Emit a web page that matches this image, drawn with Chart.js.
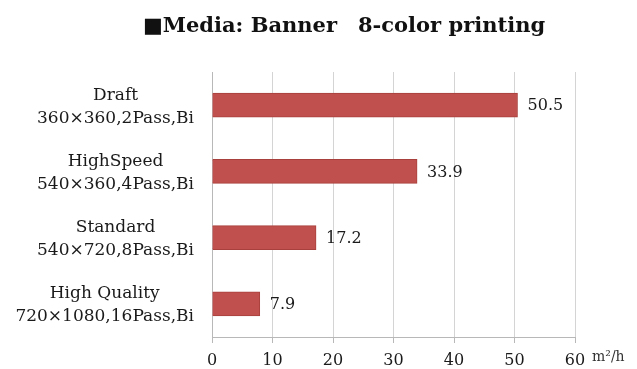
<!DOCTYPE html>
<html>
<head>
<meta charset="utf-8">
<script src="https://cdn.jsdelivr.net/npm/chart.js@4/dist/chart.umd.min.js"></script>
<style>
  html, body { margin: 0; padding: 0; background: #fff; }
  #wrap { width: 637px; height: 369px; }
</style>
</head>
<body>
<div id="wrap"><canvas id="speedChart" width="637" height="369"></canvas></div>
<script>
// chart data
const modes = ['Draft', 'HighSpeed', 'Standard', 'High Quality'];
const settings = ['360×360,2Pass,Bi', '540×360,4Pass,Bi', '540×720,8Pass,Bi', '720×1080,16Pass,Bi'];
const speeds = [50.5, 33.9, 17.2, 7.9];
const xTicks = [0, 10, 20, 30, 40, 50, 60];
const chartTitle = '■Media: Banner\u30008-color printing';
const unitLabel = 'm²/h';

const serif = '"DejaVu Serif", "Liberation Serif", serif';

// title, category labels, value labels, unit
const textPlugin = {
    id: 'textPlugin',
    afterDraw(chart) {
        const ctx = chart.ctx;
        const yScale = chart.scales.y;
        const xScale = chart.scales.x;
        ctx.save();
        ctx.fillStyle = '#111';

        ctx.font = 'bold 21px ' + serif;
        ctx.textAlign = 'center';
        ctx.textBaseline = 'middle';
        ctx.fillText(chartTitle, 344, 27);

        // category labels: block right-aligned, lines centred inside block
        ctx.font = '17px ' + serif;
        ctx.fillStyle = '#1a1a1a';
        modes.forEach((m, i) => {
            const lines = [m, settings[i]];
            const w = Math.max(...lines.map(l => ctx.measureText(l).width));
            const cx = 194 - w / 2;
            const cy = yScale.getPixelForValue(i);
            ctx.fillText(lines[0], cx, cy - 10);
            ctx.fillText(lines[1], cx, cy + 13);
        });

        // values at bar ends
        ctx.font = '16px ' + serif;
        ctx.textAlign = 'left';
        const meta = chart.getDatasetMeta(0);
        meta.data.forEach((bar, i) => {
            ctx.fillText(speeds[i].toFixed(1), bar.x + 10, bar.y + 1);
        });

        ctx.font = '14px ' + serif;
        ctx.fillStyle = '#333';
        ctx.fillText(unitLabel, xScale.getPixelForValue(60) + 17, 357);
        ctx.restore();
    }
};

new Chart(document.getElementById('speedChart'), {
    type: 'bar',
    data: {
        labels: modes,
        datasets: [{
            data: speeds,
            backgroundColor: '#c0504d',
            borderColor: '#a8403d',
            borderWidth: 1,
            barThickness: 24
        }]
    },
    options: {
        indexAxis: 'y',
        responsive: false,
        animation: false,
        layout: { padding: { top: 72, right: 62, left: 0, bottom: 0 } },
        plugins: {
            legend: { display: false },
            tooltip: { enabled: false }
        },
        scales: {
            x: {
                min: 0,
                max: 60,
                afterBuildTicks(scale) {
                    scale.ticks = xTicks.map(v => ({ value: v }));
                },
                afterFit(scale) { scale.height = 32; },
                grid: {
                    color: '#d4d4d4',
                    lineWidth: 1,
                    drawTicks: true,
                    tickLength: 6,
                    tickColor: '#b8b8b8'
                },
                border: { display: true, color: '#b8b8b8' },
                ticks: {
                    color: '#1a1a1a',
                    font: { family: serif, size: 16 },
                    padding: 8,
                    maxRotation: 0
                }
            },
            y: {
                afterFit(scale) { scale.width = 212; },
                grid: { display: false },
                border: { display: true, color: '#b8b8b8' },
                ticks: { display: false }
            }
        }
    },
    plugins: [textPlugin]
});
</script>
</body>
</html>
